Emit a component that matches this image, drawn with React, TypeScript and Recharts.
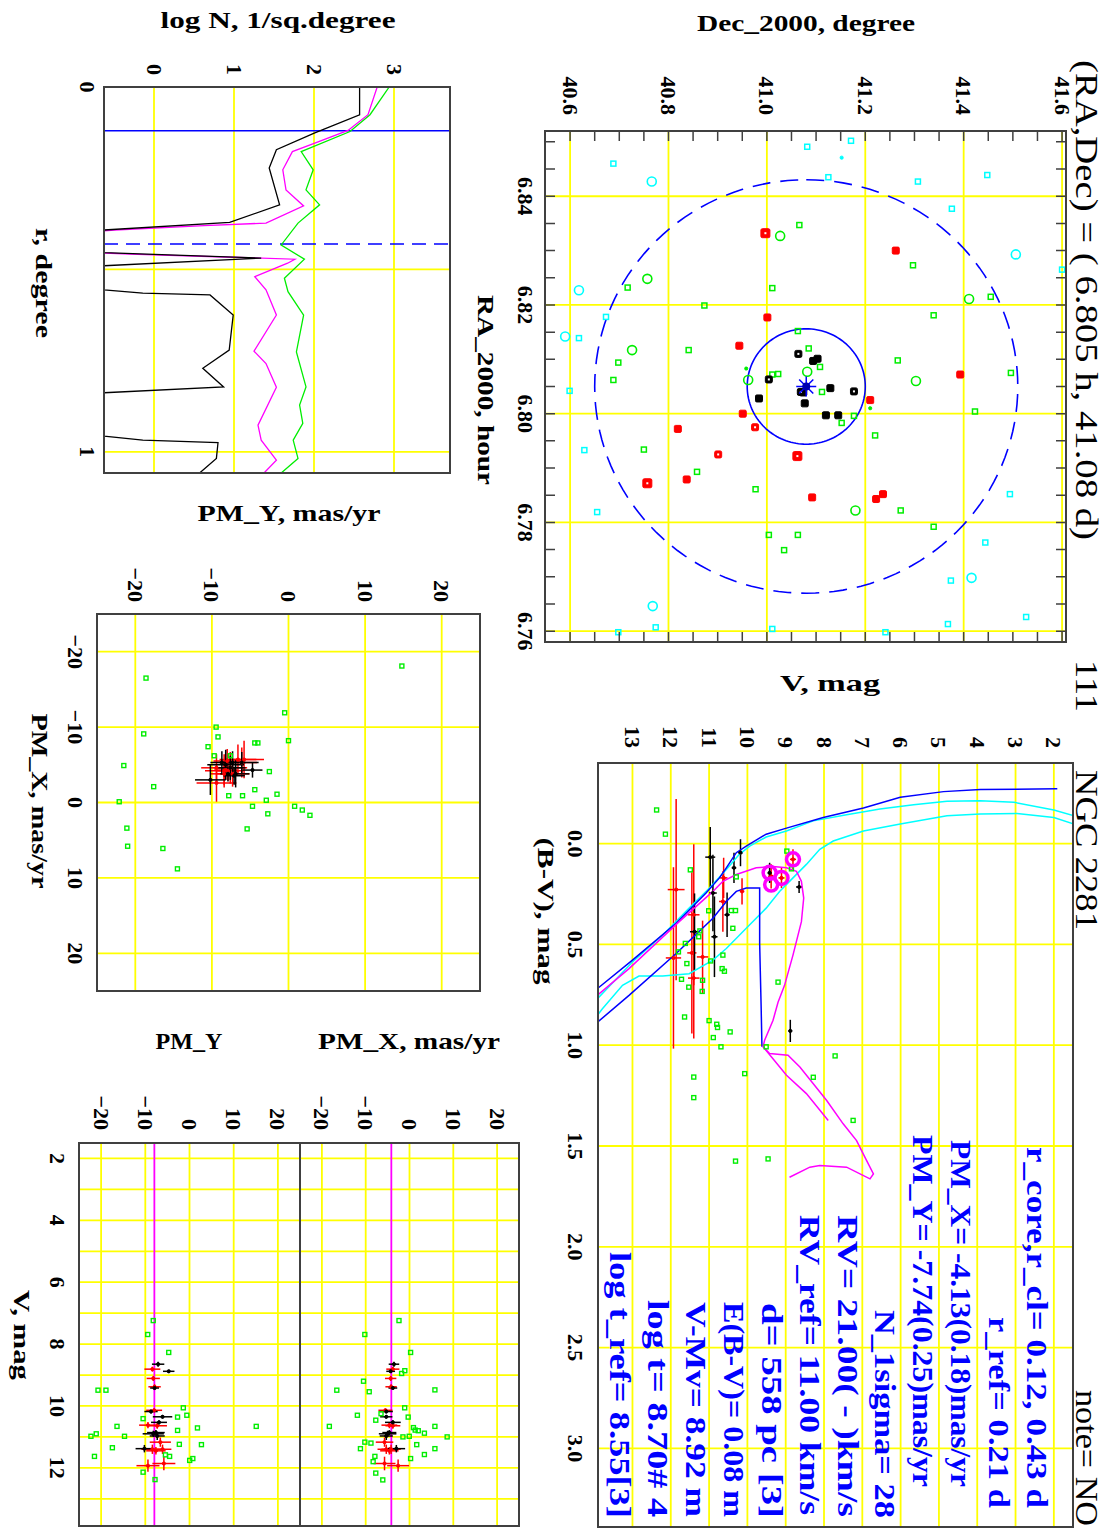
import React from "react";
import { ScatterChart, Scatter, XAxis, YAxis, CartesianGrid, ReferenceLine, ErrorBar } from "recharts";

const SERIF = '"Liberation Serif", "DejaVu Serif", serif';
const YELLOW = "#ffff00";
const FRAME = "#404040";
const CYAN = "#00ffff";
const GREEN = "#00ee00";
const RED = "#ff0000";
const MAGENTA = "#ff00ff";
const BLUE = "#0000ff";

// ---------------- cluster parameters ----------------
const clusterCenter = { ra: 6.805, dec: 41.08 };
const rCore = 0.12;
const rCluster = 0.43;
const pmMeanLineX = -4.15;
const pmMeanLineY = -7.95;

// ---------------- RA / Dec map (ra hours, dec degrees) ----------------
const cyanSmall = [
  [6.8491, 41.082], [6.8502, 41.171], [6.846, 40.688], [6.8435, 41.125], [6.8427, 41.307],
  [6.8439, 41.448], [6.8377, 41.376], [6.8265, 41.6], [6.8178, 40.673], [6.8139, 40.618],
  [6.8042, 40.599], [6.7933, 40.629], [6.7819, 40.655], [6.7852, 41.494], [6.7763, 41.444],
  [6.7693, 41.374], [6.7607, 40.774], [6.7598, 40.698], [6.7604, 41.011], [6.7598, 41.241],
  [6.7613, 41.368], [6.7626, 41.527],
];
const cyanTiny = [[6.8471, 41.152]];
const cyanLarge = [
  [6.8427, 40.766], [6.8293, 41.506], [6.8227, 40.618], [6.8142, 40.59], [6.7698, 41.416], [6.7646, 40.768],
];
const greenSmall = [
  [6.8347, 41.066], [6.8273, 41.297], [6.8232, 40.717], [6.8231, 41.011], [6.8199, 40.873],
  [6.8215, 41.455], [6.8181, 41.339], [6.8152, 41.063], [6.8117, 40.841], [6.8094, 40.698],
  [6.812, 41.085], [6.8086, 41.108], [6.8098, 41.266], [6.8075, 41.496], [6.8062, 40.688],
  [6.8072, 41.011], [6.8073, 41.023], [6.804, 41.112], [6.7996, 41.177], [6.7983, 41.152],
  [6.8004, 41.423], [6.796, 41.22], [6.7934, 40.75], [6.7893, 40.858], [6.7861, 40.977],
  [6.7822, 41.272], [6.7792, 41.339], [6.7777, 41.004], [6.7777, 41.063], [6.7749, 41.035],
];
const greenTiny = [[6.8083, 40.958], [6.801, 41.21]];
const greenLarge = [
  [6.8327, 41.027], [6.8248, 40.757], [6.8211, 41.411], [6.8117, 40.726], [6.8062, 40.962],
  [6.8077, 41.082], [6.806, 41.303], [6.7822, 41.18],
];
const redFilled = [
  [6.83, 41.262], [6.8177, 41.001], [6.8125, 40.944], [6.8072, 41.393], [6.8025, 41.21],
  [6.8, 40.951], [6.7972, 40.819], [6.7879, 40.837], [6.7846, 41.092], [6.7843, 41.222], [6.7852, 41.236],
];
const redDotted = [[6.7975, 40.976], [6.7925, 40.901]];
const redRinged = [[6.8332, 40.997], [6.7922, 41.062], [6.7872, 40.757]];
const blackFilled = [
  [6.8097, 41.094], [6.8101, 41.103], [6.8039, 41.074], [6.8019, 41.077], [6.8047, 41.129],
  [6.8028, 40.984], [6.7997, 41.12], [6.7997, 41.145],
];
const blackDotted = [[6.811, 41.064], [6.8063, 41.004], [6.804, 41.069], [6.8041, 41.177]];

const raTicks = [6.76, 6.765, 6.77, 6.775, 6.78, 6.785, 6.79, 6.795, 6.8, 6.805, 6.81, 6.815, 6.82, 6.825, 6.83, 6.835, 6.84, 6.845, 6.85];
const raGrid = [6.76, 6.78, 6.8, 6.82, 6.84];
const decTicks = [40.6, 40.65, 40.7, 40.75, 40.8, 40.85, 40.9, 40.95, 41.0, 41.05, 41.1, 41.15, 41.2, 41.25, 41.3, 41.35, 41.4, 41.45, 41.5, 41.55, 41.6];
const decGrid = [40.6, 40.8, 41.0, 41.2, 41.4, 41.6];

// ---------------- CMD ----------------
const isoBlueA = [
  { bv: -0.272, v: 1.91 }, { bv: -0.268, v: 3.92 }, { bv: -0.258, v: 4.88 }, { bv: -0.23, v: 6.01 },
  { bv: -0.177, v: 6.97 }, { bv: -0.13, v: 8.02 }, { bv: -0.077, v: 8.98 }, { bv: -0.047, v: 9.51 },
  { bv: 0.012, v: 10.03 }, { bv: 0.045, v: 10.29 }, { bv: 0.12, v: 10.55 }, { bv: 0.17, v: 10.73 },
  { bv: 0.245, v: 11.08 }, { bv: 0.395, v: 11.86 }, { bv: 0.578, v: 13.0 }, { bv: 0.72, v: 13.92 },
];
const isoBlueB = [
  { bv: 0.887, v: 13.92 }, { bv: 0.753, v: 13.09 }, { bv: 0.545, v: 11.86 }, { bv: 0.37, v: 10.9 },
  { bv: 0.287, v: 10.55 }, { bv: 0.237, v: 10.29 }, { bv: 0.22, v: 10.03 }, { bv: 0.22, v: 9.68 },
  { bv: 0.495, v: 9.68 }, { bv: 0.82, v: 9.64 }, { bv: 1.008, v: 9.62 },
];
const zamsCyanA = [
  { bv: -0.138, v: 1.47 }, { bv: -0.167, v: 2.0 }, { bv: -0.205, v: 3.04 }, { bv: -0.213, v: 3.92 },
  { bv: -0.21, v: 4.79 }, { bv: -0.193, v: 5.66 }, { bv: -0.172, v: 6.54 }, { bv: -0.143, v: 7.41 },
  { bv: -0.113, v: 8.28 }, { bv: -0.063, v: 8.98 }, { bv: -0.033, v: 9.51 }, { bv: 0.012, v: 9.94 },
  { bv: 0.053, v: 10.21 }, { bv: 0.128, v: 10.55 }, { bv: 0.22, v: 10.99 }, { bv: 0.32, v: 11.52 },
  { bv: 0.453, v: 12.21 }, { bv: 0.587, v: 13.0 }, { bv: 0.77, v: 13.92 },
];
const zamsCyanB = [
  { bv: -0.097, v: 1.47 }, { bv: -0.13, v: 2.0 }, { bv: -0.15, v: 2.96 }, { bv: -0.147, v: 3.92 },
  { bv: -0.138, v: 4.79 }, { bv: -0.097, v: 6.01 }, { bv: -0.063, v: 6.97 }, { bv: -0.013, v: 7.76 },
  { bv: 0.028, v: 8.11 }, { bv: 0.103, v: 8.46 }, { bv: 0.17, v: 8.81 }, { bv: 0.237, v: 9.16 },
  { bv: 0.32, v: 9.51 }, { bv: 0.42, v: 10.03 }, { bv: 0.52, v: 10.55 }, { bv: 0.578, v: 10.9 },
  { bv: 0.645, v: 11.52 }, { bv: 0.657, v: 12.21 }, { bv: 0.657, v: 12.83 }, { bv: 0.703, v: 13.26 },
  { bv: 0.82, v: 13.79 }, { bv: 0.853, v: 13.92 },
];
const isoMagenta = [
  { bv: 0.753, v: 13.92 }, { bv: 0.62, v: 13.09 }, { bv: 0.387, v: 11.78 }, { bv: 0.237, v: 10.9 },
  { bv: 0.187, v: 10.64 }, { bv: 0.153, v: 10.29 }, { bv: 0.12, v: 9.77 }, { bv: 0.113, v: 9.33 },
  { bv: 0.12, v: 8.98 }, { bv: 0.137, v: 8.72 }, { bv: 0.187, v: 8.59 }, { bv: 0.27, v: 8.53 },
  { bv: 0.387, v: 8.59 }, { bv: 0.553, v: 8.81 }, { bv: 0.703, v: 9.03 }, { bv: 0.787, v: 9.2 },
  { bv: 0.876, v: 9.33 }, { bv: 0.975, v: 9.55 }, { bv: 1.008, v: 9.59 }, { bv: 1.041, v: 9.42 },
  { bv: 1.05, v: 8.94 }, { bv: 1.108, v: 8.63 }, { bv: 1.191, v: 8.28 }, { bv: 1.274, v: 7.93 },
  { bv: 1.39, v: 7.5 }, { bv: 1.473, v: 7.15 }, { bv: 1.556, v: 6.93 }, { bv: 1.638, v: 6.71 },
  { bv: 1.663, v: 6.8 }, { bv: 1.605, v: 7.41 }, { bv: 1.597, v: 8.11 }, { bv: 1.605, v: 8.37 },
  { bv: 1.655, v: 8.9 },
];
const isoMagentaBranch = [
  { bv: 1.008, v: 9.59 }, { bv: 1.058, v: 9.37 }, { bv: 1.149, v: 8.98 }, { bv: 1.24, v: 8.46 }, { bv: 1.373, v: 7.89 },
];
const cmdField = [
  [-0.167, 12.37], [-0.047, 12.14], [0.13, 11.49], [0.037, 8.97], [0.125, 8.85], [0.165, 10.29],
  [0.332, 10.42], [0.332, 10.31], [0.333, 11.01], [0.433, 11.24], [0.462, 11.27], [0.42, 10.38],
  [0.495, 11.62], [0.537, 11.8], [0.595, 11.58], [0.582, 10.96], [0.553, 10.64], [0.62, 10.66],
  [0.633, 10.6], [0.673, 11.72], [0.712, 11.53], [0.733, 11.18], [0.678, 11.17], [0.687, 9.2],
  [0.86, 11.64], [0.878, 11.0], [0.896, 10.8], [0.912, 10.78], [0.934, 10.45], [0.962, 10.89],
  [1.008, 10.69], [1.008, 9.51], [1.053, 7.71], [1.159, 8.28], [1.158, 11.4], [1.141, 10.07],
  [1.26, 11.4], [1.373, 7.24], [1.564, 9.46], [1.575, 10.31],
];
const giantRings = [
  { bv: 0.145, v: 9.42 }, { bv: 0.203, v: 9.38 }, { bv: 0.17, v: 9.11 }, { bv: 0.078, v: 8.81 },
];

// cluster members (V, B-V, proper motions with errors)
const blackMembers = [
  { v: 8.65, ev: 0.08, bv: 0.215, ebv: 0.03, pmx: -3.55, epmx: 1.2, pmy: -7.1, epmy: 1.4 },
  { v: 8.88, ev: 0.05, bv: 0.929, ebv: 0.055, pmx: -4.3, epmx: 1.0, pmy: -4.7, epmy: 1.3 },
  { v: 9.42, ev: 0.05, bv: 0.145, ebv: 0.05, pmx: -3.8, epmx: 1.0, pmy: -7.9, epmy: 1.0 },
  { v: 10.18, ev: 0.06, bv: 0.045, ebv: 0.067, pmx: -5.3, epmx: 1.5, pmy: -8.7, epmy: 1.5 },
  { v: 10.35, ev: 0.06, bv: 0.12, ebv: 0.075, pmx: -5.3, epmx: 1.4, pmy: -6.1, epmy: 2.2 },
  { v: 10.53, ev: 0.07, bv: 0.353, ebv: 0.11, pmx: -3.8, epmx: 1.8, pmy: -6.9, epmy: 1.8 },
  { v: 10.86, ev: 0.08, bv: 0.462, ebv: 0.2, pmx: -4.6, epmx: 1.6, pmy: -7.6, epmy: 2.0 },
  { v: 10.9, ev: 0.1, bv: 0.245, ebv: 0.19, pmx: -5.0, epmx: 2.0, pmy: -8.2, epmy: 2.4 },
  { v: 10.97, ev: 0.13, bv: 0.067, ebv: 0.15, pmx: -5.3, epmx: 1.5, pmy: -7.3, epmy: 1.7 },
  { v: 11.38, ev: 0.12, bv: 0.437, ebv: 0.19, pmx: -3.0, epmx: 2.0, pmy: -10.2, epmy: 2.0 },
];
const redMembers = [
  { v: 8.81, ev: 0.08, bv: 0.078, ebv: 0.05, pmx: -3.8, epmx: 1.5, pmy: -8.4, epmy: 1.8 },
  { v: 9.11, ev: 0.08, bv: 0.17, ebv: 0.05, pmx: -4.3, epmx: 1.3, pmy: -8.2, epmy: 1.5 },
  { v: 9.38, ev: 0.08, bv: 0.162, ebv: 0.06, pmx: -4.2, epmx: 1.3, pmy: -7.9, epmy: 1.4 },
  { v: 10.14, ev: 0.06, bv: 0.237, ebv: 0.065, pmx: -5.5, epmx: 1.6, pmy: -8.0, epmy: 1.8 },
  { v: 10.62, ev: 0.1, bv: 0.17, ebv: 0.1, pmx: -4.6, epmx: 1.8, pmy: -9.4, epmy: 2.0 },
  { v: 10.64, ev: 0.1, bv: 0.287, ebv: 0.15, pmx: -3.8, epmx: 1.7, pmy: -7.3, epmy: 2.2 },
  { v: 11.17, ev: 0.15, bv: 0.562, ebv: 0.18, pmx: -5.7, epmx: 2.0, pmy: -6.6, epmy: 2.4 },
  { v: 11.4, ev: 0.15, bv: 0.353, ebv: 0.35, pmx: -5.3, epmx: 2.0, pmy: -6.1, epmy: 2.0 },
  { v: 11.4, ev: 0.15, bv: 0.667, ebv: 0.3, pmx: -4.2, epmx: 2.2, pmy: -8.4, epmy: 2.5 },
  { v: 11.45, ev: 0.12, bv: 0.542, ebv: 0.4, pmx: -4.6, epmx: 2.1, pmy: -7.6, epmy: 2.2 },
  { v: 11.86, ev: 0.22, bv: 0.228, ebv: 0.45, pmx: -5.7, epmx: 2.5, pmy: -5.8, epmy: 2.6 },
  { v: 11.93, ev: 0.2, bv: 0.567, ebv: 0.45, pmx: -2.6, epmx: 2.5, pmy: -9.4, epmy: 2.6 },
];
const bvTicks = [0, 0.5, 1, 1.5, 2, 2.5, 3];
const vTicks = [2, 3, 4, 5, 6, 7, 8, 9, 10, 11, 12, 13];

const infoLines = [
  "r_core,r_cl= 0.12, 0.43 d",
  "r_ref= 0.21 d",
  "PM_X= -4.13(0.18)mas/yr",
  "PM_Y= -7.74(0.25)mas/yr",
  "N_1sigma= 28",
  "RV= 21.00( - )km/s",
  "RV_ref= 11.00 km/s",
  "d= 558 pc [3]",
  "E(B-V)= 0.08 m",
  "V-Mv= 8.92 m",
  "log t= 8.70# 4",
  "log t_ref= 8.55[3]",
];
const infoStart = [1147, 1317, 1140, 1135, 1310, 1215, 1215, 1303, 1302, 1302, 1300, 1252];
const infoEnd = [1508, 1508, 1487, 1487, 1518, 1517, 1515, 1518, 1517, 1517, 1517, 1518];

// ---------------- radial density profile (r deg, log N) ----------------
const profileBlack = [
  [0, 2.57], [0.076, 2.57], [0.126, 2.01], [0.172, 1.53], [0.222, 1.44], [0.323, 1.57], [0.371, 0.946],
  [0.392, -0.625], [0.454, -0.625], [0.469, 1.34], [0.49, -0.625], [0.556, -0.625], [0.565, -0.14],
  [0.57, 0.7], [0.625, 0.99], [0.721, 0.94], [0.771, 0.61], [0.822, 0.87], [0.838, -0.625],
  [0.957, -0.625], [0.968, -0.14], [0.975, 0.8], [1.018, 0.78], [1.058, 0.57],
];
const profileMagenta = [
  [0, 2.79], [0.076, 2.675], [0.119, 2.425], [0.154, 2.01], [0.177, 1.73], [0.227, 1.61], [0.282, 1.65],
  [0.326, 1.87], [0.373, 1.4], [0.38, 0.625], [0.392, -0.49], [0.394, -0.625], [0.455, -0.625],
  [0.458, -0.3], [0.472, 1.76], [0.483, 1.67], [0.52, 1.26], [0.556, 1.4], [0.625, 1.53], [0.724, 1.25],
  [0.758, 1.4], [0.823, 1.53], [0.927, 1.3], [0.968, 1.34], [1.023, 1.53], [1.058, 1.375],
];
const profileGreen = [
  [0, 2.94], [0.076, 2.7], [0.122, 2.45], [0.177, 1.84], [0.227, 1.99], [0.282, 1.9], [0.323, 2.07],
  [0.373, 1.8], [0.433, 1.59], [0.472, 1.88], [0.524, 1.63], [0.561, 1.675], [0.625, 1.87], [0.726, 1.78],
  [0.822, 1.9], [0.872, 1.82], [0.922, 1.86], [0.968, 1.74], [1.018, 1.8], [1.058, 1.59],
];

// ---------------- proper motions ----------------
const pmField = [
  [-18.1, 14.8], [-16.5, -18.6], [-11.9, -0.5], [-10.0, -9.45], [-9.1, -18.9], [-8.7, -9.2], [-8.2, 0.0],
  [-7.4, -10.5], [-7.9, -4.4], [-7.9, -4.0], [-4.9, -21.5], [-4.1, -2.5], [-2.1, -17.6], [-1.7, -4.4],
  [-0.9, -7.8], [-0.9, -6.0], [-1.1, -1.5], [-0.3, -2.9], [-0.1, -22.1], [0.5, -4.7], [0.5, 0.8],
  [1.0, 1.8], [1.7, 2.8], [1.5, -2.7], [3.5, -5.4], [3.4, -21.1], [5.8, -21.0], [6.1, -16.4],
  [8.8, -14.5], [-6.2, -9.7], [-6.2, -7.6],
];
const pmxVField = [
  [7.24, -2.4], [7.69, -10.2], [8.27, 0.25], [8.86, -1.07], [8.95, -1.8], [9.2, -10.5], [9.49, -16.6],
  [9.54, -9.2], [9.48, 5.8], [10.06, -1.1], [10.3, -11.9], [10.25, -6.5], [10.36, -0.3], [10.66, -18.3],
  [10.46, -7.7], [10.7, 0.9], [10.78, 1.3], [10.8, 2.0], [10.88, 3.4], [10.66, 5.8], [11.0, 8.6],
  [10.98, -0.06], [11.0, -1.5], [11.17, -10.2], [11.2, -8.8], [11.38, -11.2], [11.25, 1.65], [11.57, 3.4],
  [11.38, 5.8], [11.63, -7.9], [11.8, -8.3], [11.7, 0.25], [12.17, -7.7], [12.39, -6.1],
];
const pmyVField = [
  [7.24, -8.2], [7.69, -9.45], [8.27, -4.7], [9.49, -20.7], [9.49, -18.9], [10.06, -1.4], [10.3, -0.6],
  [10.36, -2.7], [10.41, -10.5], [10.66, -16.4], [10.71, 1.8], [10.79, -2.7], [10.66, 15.1], [10.98, -22.3],
  [10.9, -21.1], [10.98, -14.7], [11.35, -17.45], [11.24, -2.3], [11.25, 2.7], [11.63, -21.5],
  [11.58, -5.45], [11.63, -4.5], [11.76, 0.04], [11.7, 0.75], [12.14, -10.5], [12.38, -7.8],
];
const pmTicks = [-20, -10, 0, 10, 20];

// ---------------- helpers ----------------
const toRaDec = (a: number[][]) => a.map(([ra, dec]) => ({ ra, dec }));
const toXY = (a: number[][], kx: string, ky: string) => a.map((p) => ({ [kx]: p[0], [ky]: p[1] }));
const ringPath = (r: number) => {
  const cosd = Math.cos((clusterCenter.dec * Math.PI) / 180);
  const pts = [];
  for (let i = 0; i <= 144; i++) {
    const t = (i / 144) * 2 * Math.PI;
    pts.push({ ra: clusterCenter.ra + (r * Math.cos(t)) / (15 * cosd), dec: clusterCenter.dec + r * Math.sin(t) });
  }
  return pts;
};
const minus = (v: number) => (v < 0 ? "\u2212" + Math.abs(v) : String(v));
const isStep = (v: number, step: number) => Math.abs(v / step - Math.round(v / step)) < 1e-6;

const noShape = () => <g />;
const openSq = (c: string, s: number, sw = 1.5) => (p: any) => (
  <rect x={p.cx - s / 2} y={p.cy - s / 2} width={s} height={s} fill="none" stroke={c} strokeWidth={sw} />
);
const fillSq = (c: string, s: number) => (p: any) => (
  <rect x={p.cx - s / 2} y={p.cy - s / 2} width={s} height={s} rx={1.2} fill={c} stroke={c} strokeWidth={1} />
);
const dotSq = (c: string, s: number) => (p: any) => (
  <g>
    <rect x={p.cx - s / 2} y={p.cy - s / 2} width={s} height={s} rx={1.5} fill={c} stroke={c} strokeWidth={1} />
    <rect x={p.cx - 1} y={p.cy - 1} width={2} height={2} fill="#fff" />
  </g>
);
const openCirc = (c: string, r: number, sw = 1.6) => (p: any) => (
  <circle cx={p.cx} cy={p.cy} r={r} fill="none" stroke={c} strokeWidth={sw} />
);
const asterisk = (p: any) => {
  const r = 10;
  const segs = [0, 45, 90, 135].map((a) => {
    const dx = r * Math.cos((a * Math.PI) / 180);
    const dy = r * Math.sin((a * Math.PI) / 180);
    return `M${p.cx - dx},${p.cy - dy}L${p.cx + dx},${p.cy + dy}`;
  });
  return (
    <g>
      <path d={segs.join("")} stroke={BLUE} strokeWidth={1.5} />
      <circle cx={p.cx} cy={p.cy} r={4} fill="#0000b0" />
    </g>
  );
};

const curve = (data: any[], color: string, width = 1.5, dash?: string) => (
  <Scatter
    data={data}
    line={{ stroke: color, strokeWidth: width, strokeDasharray: dash }}
    shape={noShape}
    isAnimationActive={false}
  />
);
const dots = (data: any[], shape: any) => <Scatter data={data} shape={shape} isAnimationActive={false} />;

type AxisSpec = {
  key: string;
  domain: [number, number];
  reversed?: boolean;
  ticks: number[];
  grid: number[];
  label: (v: number) => string | null;
  offset: number;
};

const LP = 80;
const TP = 24;
const RP = 30;
const BP = 50;

function Panel(props: {
  x: number; y: number; w: number; h: number;
  xa: AxisSpec; ya: AxisSpec; minor?: number; hideX?: boolean; children?: React.ReactNode;
}) {
  const { x, y, w, h, xa, ya, minor, hideX } = props;
  const bp = hideX ? 0 : BP;
  const xTick = (p: any) => {
    const v = p.payload.value;
    const cx = p.x;
    const lab = xa.label(v);
    return (
      <g>
        {minor ? (
          <path d={`M${cx},${TP + h}v${-minor}M${cx},${TP}v${minor}`} stroke={FRAME} strokeWidth={1.5} />
        ) : null}
        {lab !== null ? (
          <text x={cx} y={TP + h + xa.offset} textAnchor="middle" dominantBaseline="central"
            fontFamily={SERIF} fontWeight="bold" fontSize={22} fill="#000">{lab}</text>
        ) : null}
      </g>
    );
  };
  const yTick = (p: any) => {
    const v = p.payload.value;
    const cy = p.y;
    const lab = ya.label(v);
    return (
      <g>
        {minor ? (
          <path d={`M${LP},${cy}h${minor}M${LP + w},${cy}h${-minor}`} stroke={FRAME} strokeWidth={1.5} />
        ) : null}
        {lab !== null ? (
          <text x={LP - ya.offset} y={cy} textAnchor="end" dominantBaseline="central"
            fontFamily={SERIF} fontWeight="bold" fontSize={22} fill="#000">{lab}</text>
        ) : null}
      </g>
    );
  };
  return (
    <div style={{ position: "absolute", left: x - LP, top: y - TP }}>
      <ScatterChart width={LP + w + RP} height={TP + h + bp} margin={{ top: TP, right: RP, bottom: 0, left: 0 }}>
        <CartesianGrid stroke={YELLOW} strokeWidth={1.8} horizontalValues={ya.grid} verticalValues={xa.grid} fill="none" />
        <XAxis type="number" dataKey={xa.key} domain={xa.domain} reversed={xa.reversed} ticks={xa.ticks}
          interval={0} tick={xTick} tickLine={false} axisLine={false} height={bp} allowDataOverflow hide={hideX} />
        <YAxis type="number" dataKey={ya.key} domain={ya.domain} reversed={ya.reversed} ticks={ya.ticks}
          interval={0} tick={yTick} tickLine={false} axisLine={false} width={LP} allowDataOverflow />
        {props.children}
      </ScatterChart>
    </div>
  );
}

function Txt(p: {
  x: number; y: number; children: React.ReactNode; size?: number; bold?: boolean; rot?: boolean;
  len?: number; anchor?: "start" | "middle" | "end"; color?: string; base?: string;
}) {
  return (
    <text
      transform={`translate(${p.x},${p.y})${p.rot ? " rotate(-90)" : ""}`}
      textAnchor={p.anchor || "middle"}
      dominantBaseline={(p.base as any) || "central"}
      fontFamily={SERIF}
      fontWeight={p.bold === false ? "normal" : "bold"}
      fontSize={p.size || 24}
      fill={p.color || "#000"}
      textLength={p.len}
      lengthAdjust={p.len ? "spacingAndGlyphs" : undefined}
    >
      {p.children}
    </text>
  );
}

// plot rectangles (landscape page, before the page is turned)
const R_MAP = { x: 131, y: 52, w: 511, h: 521 };
const R_CMD = { x: 763, y: 45, w: 764, h: 475 };
const R_RAD = { x: 87, y: 668, w: 386, h: 346 };
const R_PM = { x: 614, y: 638, w: 377, h: 383 };
const R_PMXV = { x: 1143, y: 599, w: 383, h: 219 };
const R_PMYV = { x: 1143, y: 818, w: 383, h: 221 };

export default function App() {
  const blackPmxV = blackMembers.map((m) => ({ v: m.v, pm: m.pmx, ev: m.ev, epm: m.epmx }));
  const blackPmyV = blackMembers.map((m) => ({ v: m.v, pm: m.pmy, ev: m.ev, epm: m.epmy }));
  const redPmxV = redMembers.map((m) => ({ v: m.v, pm: m.pmx, ev: m.ev, epm: m.epmx }));
  const redPmyV = redMembers.map((m) => ({ v: m.v, pm: m.pmy, ev: m.ev, epm: m.epmy }));

  const vAxisPM = (showLabels: boolean): AxisSpec => ({
    key: "v", domain: [1.5, 13.88], ticks: vTicks, grid: vTicks,
    label: (v) => (showLabels && isStep(v, 2) ? String(v) : null), offset: 22,
  });
  const pmAxis: AxisSpec = { key: "pm", domain: [-25, 25], ticks: pmTicks, grid: pmTicks, label: minus, offset: 13 };

  const crossSet = (data: any[], color: string, xKey: string, yKey: string) => (
    <Scatter data={data} shape={fillSq(color, 3)} isAnimationActive={false}>
      <ErrorBar dataKey={xKey} direction="x" width={0} stroke={color} strokeWidth={1.5} isAnimationActive={false} />
      <ErrorBar dataKey={yKey} direction="y" width={0} stroke={color} strokeWidth={1.5} isAnimationActive={false} />
    </Scatter>
  );

  return (
    <div style={{ position: "absolute", left: 0, top: 0, width: 1118, height: 1530, overflow: "hidden", background: "#fff" }}>
      <div style={{ position: "absolute", left: 0, top: 0, width: 1530, height: 1118, transform: "translate(1118px,0) rotate(90deg)", transformOrigin: "0 0", background: "#fff" }}>
        {/* RA / Dec map */}
        <Panel {...R_MAP} minor={10}
          xa={{ key: "ra", domain: [6.758, 6.852], reversed: true, ticks: raTicks, grid: raGrid, label: (v) => (isStep(v, 0.02) ? v.toFixed(2) : null), offset: 20 }}
          ya={{ key: "dec", domain: [40.549, 41.608], ticks: decTicks, grid: decGrid, label: (v) => (isStep(v, 0.2) ? v.toFixed(1) : null), offset: 16 }}>
          {curve(ringPath(rCluster), BLUE, 1.6, "18 10")}
          {curve(ringPath(rCore), BLUE, 1.6)}
          {dots(toRaDec(cyanSmall), openSq(CYAN, 5))}
          {dots(toRaDec(cyanTiny), fillSq(CYAN, 3))}
          {dots(toRaDec(cyanLarge), openCirc(CYAN, 4.5))}
          {dots(toRaDec(greenSmall), openSq(GREEN, 5))}
          {dots(toRaDec(greenTiny), fillSq(GREEN, 3))}
          {dots(toRaDec(greenLarge), openCirc(GREEN, 4.5))}
          {dots(toRaDec(redFilled), fillSq(RED, 7))}
          {dots(toRaDec(redDotted), dotSq(RED, 7))}
          {dots(toRaDec(redRinged), dotSq(RED, 9))}
          {dots(toRaDec(blackFilled), fillSq("#000", 7))}
          {dots(toRaDec(blackDotted), dotSq("#000", 7))}
          {dots([clusterCenter], asterisk)}
        </Panel>

        {/* colour-magnitude diagram */}
        <Panel {...R_CMD}
          xa={{ key: "bv", domain: [-0.4, 3.39], ticks: bvTicks, grid: bvTicks, label: (v) => v.toFixed(1), offset: 23 }}
          ya={{ key: "v", domain: [1.5, 13.9], reversed: true, ticks: vTicks, grid: vTicks, label: (v) => String(v), offset: 15 }}>
          {curve(zamsCyanA, CYAN)}
          {curve(zamsCyanB, CYAN)}
          {curve(isoBlueA, BLUE)}
          {curve(isoBlueB, BLUE)}
          {curve(isoMagenta, MAGENTA)}
          {curve(isoMagentaBranch, MAGENTA)}
          {dots(toXY(cmdField, "bv", "v"), openSq(GREEN, 4, 1.4))}
          {crossSet(redMembers, RED, "ebv", "ev")}
          {crossSet(blackMembers, "#000", "ebv", "ev")}
          {dots(giantRings, openCirc(MAGENTA, 6.5, 3.5))}
        </Panel>

        {/* radial density profile */}
        <Panel {...R_RAD}
          xa={{ key: "r", domain: [0, 1.058], ticks: [0, 0.5, 1], grid: [0.5, 1], label: (v) => (v === 0.5 ? null : String(v)), offset: 17 }}
          ya={{ key: "n", domain: [-0.625, 3.7], ticks: [0, 1, 2, 3], grid: [0, 1, 2, 3], label: (v) => String(v), offset: 12 }}>
          <ReferenceLine x={rCore} stroke={BLUE} strokeWidth={1.5} />
          <ReferenceLine x={rCluster} stroke={BLUE} strokeWidth={1.5} strokeDasharray="14 8" />
          {curve(toXY(profileGreen, "r", "n"), GREEN, 1.3)}
          {curve(toXY(profileMagenta, "r", "n"), MAGENTA, 1.3)}
          {curve(toXY(profileBlack, "r", "n"), "#000", 1.3)}
        </Panel>

        {/* proper-motion diagram */}
        <Panel {...R_PM}
          xa={{ key: "pmx", domain: [-25, 25], ticks: pmTicks, grid: pmTicks, label: minus, offset: 22 }}
          ya={{ key: "pmy", domain: [-25, 25], ticks: pmTicks, grid: pmTicks, label: minus, offset: 12 }}>
          {dots(toXY(pmField, "pmx", "pmy"), openSq(GREEN, 4, 1.4))}
          {crossSet(redMembers, RED, "epmx", "epmy")}
          {crossSet(blackMembers, "#000", "epmx", "epmy")}
        </Panel>

        {/* PM_X vs V */}
        <Panel {...R_PMXV} hideX xa={vAxisPM(false)} ya={pmAxis}>
          <ReferenceLine y={pmMeanLineX} stroke={MAGENTA} strokeWidth={1.8} />
          {dots(toXY(pmxVField, "v", "pm"), openSq(GREEN, 4, 1.4))}
          {crossSet(redPmxV, RED, "ev", "epm")}
          {crossSet(blackPmxV, "#000", "ev", "epm")}
        </Panel>

        {/* PM_Y vs V */}
        <Panel {...R_PMYV} xa={vAxisPM(true)} ya={pmAxis}>
          <ReferenceLine y={pmMeanLineY} stroke={MAGENTA} strokeWidth={1.8} />
          {dots(toXY(pmyVField, "v", "pm"), openSq(GREEN, 4, 1.4))}
          {crossSet(redPmyV, RED, "ev", "epm")}
          {crossSet(blackPmyV, "#000", "ev", "epm")}
        </Panel>

        {/* frames, titles and annotation */}
        <svg width={1530} height={1118} style={{ position: "absolute", left: 0, top: 0, pointerEvents: "none" }}>
          {[R_MAP, R_CMD, R_RAD, R_PM, R_PMXV, R_PMYV].map((r, i) => (
            <rect key={i} x={r.x} y={r.y} width={r.w} height={r.h} fill="none" stroke={FRAME} strokeWidth={2} />
          ))}
          <Txt x={60} y={42} anchor="start" base="alphabetic" size={32} bold={false} len={480}>(RA,Dec) = ( 6.805 h, 41.08 d)</Txt>
          <Txt x={660} y={42} anchor="start" base="alphabetic" size={32} bold={false} len={52}>111</Txt>
          <Txt x={770} y={42} anchor="start" base="alphabetic" size={32} bold={false} len={160}>NGC 2281</Txt>
          <Txt x={1390} y={42} anchor="start" base="alphabetic" size={32} bold={false} len={136}>note= NO</Txt>

          <Txt x={23} y={312} rot len={218}>Dec_2000, degree</Txt>
          <Txt x={390} y={632} len={190}>RA_2000, hour</Txt>
          <Txt x={683} y={288} rot len={100}>V, mag</Txt>
          <Txt x={911} y={572} len={147}>(B-V), mag</Txt>
          <Txt x={20} y={840} rot len={235}>log N, 1/sq.degree</Txt>
          <Txt x={283} y={1074} len={110}>r, degree</Txt>
          <Txt x={513} y={829} rot len={183}>PM_Y, mas/yr</Txt>
          <Txt x={801} y={1078} len={175}>PM_X, mas/yr</Txt>
          <Txt x={1041} y={709} rot len={182}>PM_X, mas/yr</Txt>
          <Txt x={1041} y={929} rot len={67}>PM_Y</Txt>
          <Txt x={1335} y={1096} len={90}>V, mag</Txt>

          {infoLines.map((s, i) => (
            <Txt key={i} x={infoStart[i]} y={91 + 37.9 * i} anchor="start" base="alphabetic" size={29}
              color={BLUE} len={infoEnd[i] - infoStart[i]}>{s}</Txt>
          ))}
        </svg>
      </div>
    </div>
  );
}
